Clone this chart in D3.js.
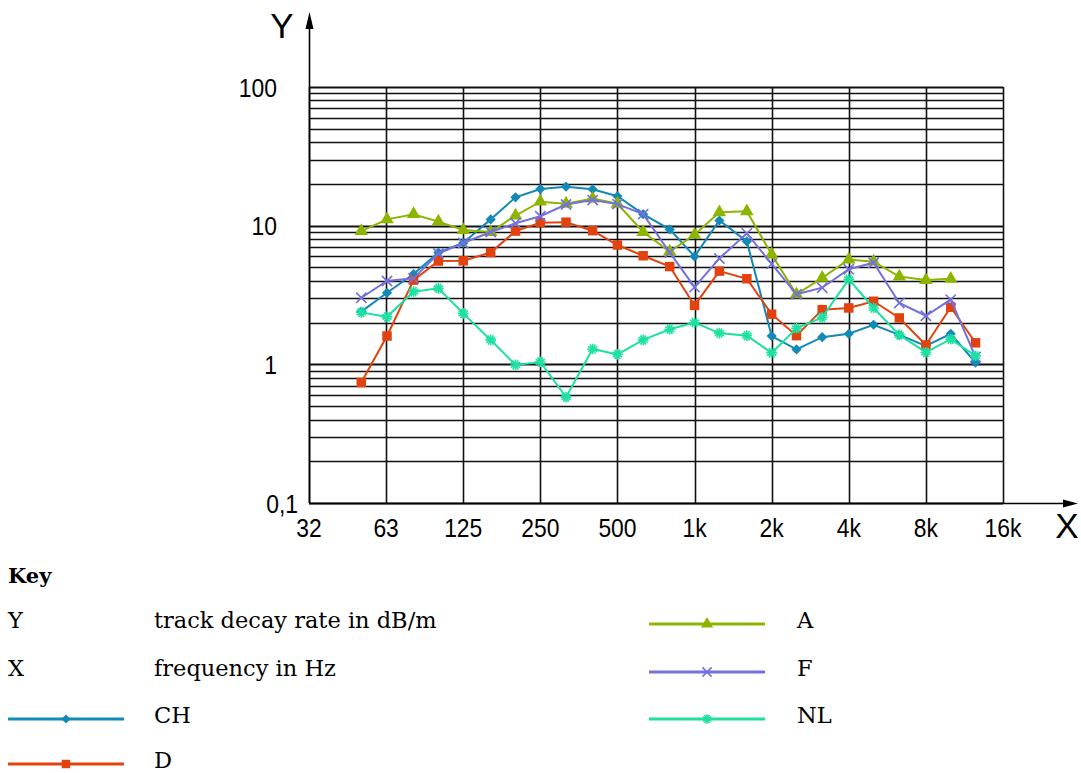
<!DOCTYPE html>
<html>
<head>
<meta charset="utf-8">
<script src="https://cdn.jsdelivr.net/npm/d3@7"></script>
<style>
  body { margin: 0; background: #fff; }
  svg { display: block; }
</style>
</head>
<body>
<svg id="chart" width="1081" height="773"></svg>
<script>
// third-octave band centres (Hz)
const bands = [50, 63, 80, 100, 125, 160, 200, 250, 315, 400, 500, 630, 800,
               1000, 1250, 1600, 2000, 2500, 3150, 4000, 5000, 6300, 8000, 10000, 12500]

// track decay rate in dB/m
const valuesCH = [2.4, 3.28, 4.48, 6.4, 7.5, 11.1, 16.0, 18.4, 19.1, 18.3, 16.3, 12.1, 9.4,
                  6.0, 10.9, 7.7, 1.6, 1.28, 1.57, 1.66, 1.93, 1.63, 1.36, 1.66, 1.03]
const valuesD  = [0.74, 1.6, 4.05, 5.56, 5.58, 6.4, 9.14, 10.5, 10.6, 9.2, 7.25, 6.07, 5.07,
                  2.66, 4.7, 4.14, 2.3, 1.61, 2.48, 2.55, 2.85, 2.16, 1.38, 2.58, 1.43]
const valuesA  = [9.14, 11.1, 12.1, 10.7, 9.3, 9.0, 11.8, 14.9, 14.4, 15.7, 14.4, 9.0, 6.5,
                  8.6, 12.5, 12.7, 6.2, 3.2, 4.2, 5.7, 5.5, 4.3, 4.05, 4.14, null]
const valuesF  = [3.02, 3.99, 4.17, 6.3, 7.5, 9.0, 10.4, 11.7, 14.2, 15.3, 14.3, 12.1, 6.4,
                  3.6, 5.8, 8.8, 5.3, 3.2, 3.57, 4.85, 5.4, 2.77, 2.24, 2.93, 1.13]
const valuesNL = [2.37, 2.2, 3.34, 3.53, 2.33, 1.5, 0.99, 1.04, 0.58, 1.29, 1.18, 1.5, 1.79,
                  2.0, 1.68, 1.61, 1.21, 1.82, 2.18, 4.1, 2.55, 1.63, 1.22, 1.52, 1.15]

// octave ticks
const octaves = [31.25, 62.5, 125, 250, 500, 1000, 2000, 4000, 8000, 16000]
const octaveLabels = ['32', '63', '125', '250', '500', '1k', '2k', '4k', '8k', '16k']
const decades = [0.1, 1, 10, 100]
const decadeLabels = ['0,1', '1', '10', '100']

const series = [
  { name: 'CH', values: valuesCH, color: '#1289b6', symbol: 'diamond' },
  { name: 'D',  values: valuesD,  color: '#e2420e', symbol: 'square' },
  { name: 'A',  values: valuesA,  color: '#8db500', symbol: 'triangle' },
  { name: 'F',  values: valuesF,  color: '#7470dc', symbol: 'times' },
  { name: 'NL', values: valuesNL, color: '#1de0a2', symbol: 'asterisk' }
]

const svg = d3.select('#chart')

const x = d3.scaleLog().base(2).domain([31.25, 16000]).range([309, 1003])
const y = d3.scaleLog().domain([0.1, 100]).range([503, 87])

// horizontal grid: 1..9 in each decade
let yGrid = []
for (let k = -1; k <= 1; k++) {
  for (let m = 1; m <= 9; m++) yGrid.push(m * Math.pow(10, k))
}
yGrid.push(100)

const grid = svg.append('g')
grid.selectAll('.hgrid')
  .data(yGrid)
  .enter()
  .append('line')
  .attr('x1', x(31.25))
  .attr('x2', x(16000))
  .attr('y1', d => Math.round(y(d)) + 0.5)
  .attr('y2', d => Math.round(y(d)) + 0.5)
  .attr('stroke', '#111')
  .attr('stroke-width', d => decades.includes(+d.toPrecision(3)) ? 2 : 1.5)

grid.selectAll('.vgrid')
  .data(octaves)
  .enter()
  .append('line')
  .attr('x1', d => Math.round(x(d)) + 0.5)
  .attr('x2', d => Math.round(x(d)) + 0.5)
  .attr('y1', y(100))
  .attr('y2', y(0.1))
  .attr('stroke', '#111')
  .attr('stroke-width', 1.6)

// axes with arrows
const axes = svg.append('g').attr('stroke', '#000').attr('fill', '#000')
axes.append('line')
  .attr('x1', x(31.25) + 0.5).attr('x2', x(31.25) + 0.5)
  .attr('y1', y(0.1)).attr('y2', 26)
  .attr('stroke-width', 1.6)
axes.append('path')
  .attr('d', 'M309.5,12 L305.5,29 L313.5,29 Z')
  .attr('stroke', 'none')
axes.append('line')
  .attr('x1', x(31.25)).attr('x2', 1066)
  .attr('y1', y(0.1) + 0.5).attr('y2', y(0.1) + 0.5)
  .attr('stroke-width', 1.6)
axes.append('path')
  .attr('d', 'M1078,503.5 L1063,499.5 L1063,507.5 Z')
  .attr('stroke', 'none')

const labelFont = '"Liberation Sans", Arial, sans-serif'

svg.selectAll('.xlab')
  .data(octaves)
  .enter()
  .append('text')
  .attr('transform', d => 'translate(' + x(d) + ',537) scale(0.88,1)')
  .attr('text-anchor', 'middle')
  .attr('font-family', labelFont)
  .attr('font-size', 26)
  .attr('fill', '#000')
  .text((d, i) => octaveLabels[i])

svg.selectAll('.ylab')
  .data(decades)
  .enter()
  .append('text')
  .attr('transform', d => 'translate(' + (d === 0.1 ? 298 : 277) + ',' + (y(d) + 9.5) + ') scale(0.88,1)')
  .attr('text-anchor', 'end')
  .attr('font-family', labelFont)
  .attr('font-size', 26)
  .attr('fill', '#000')
  .text((d, i) => decadeLabels[i])

svg.append('text')
  .attr('x', 282).attr('y', 38)
  .attr('text-anchor', 'middle')
  .attr('font-family', labelFont)
  .attr('font-size', 35)
  .text('Y')
svg.append('text')
  .attr('x', 1067).attr('y', 538)
  .attr('text-anchor', 'middle')
  .attr('font-family', labelFont)
  .attr('font-size', 35)
  .text('X')

// markers
function marker(sel, type, color, scale) {
  const k = scale || 1
  if (type === 'diamond') {
    sel.append('path').attr('d', d3.symbol(d3.symbolSquare, 52 * k)()).attr('transform', 'rotate(45)')
      .attr('fill', color)
  } else if (type === 'square') {
    sel.append('path').attr('d', d3.symbol(d3.symbolSquare, 90 * k)()).attr('fill', color)
  } else if (type === 'triangle') {
    sel.append('path').attr('d', d3.symbol(d3.symbolTriangle, 80 * k)()).attr('fill', color)
  } else if (type === 'times') {
    sel.append('path').attr('d', d3.symbol(d3.symbolTimes, 70 * k)())
      .attr('fill', 'none').attr('stroke', color).attr('stroke-width', 1.6)
  } else if (type === 'asterisk') {
    sel.append('path').attr('d', d3.symbol(d3.symbolAsterisk, 80 * k)())
      .attr('fill', 'none').attr('stroke', color).attr('stroke-width', 1.6)
    sel.append('path').attr('d', d3.symbol(d3.symbolAsterisk, 80 * k)()).attr('transform', 'rotate(90)')
      .attr('fill', 'none').attr('stroke', color).attr('stroke-width', 1.6)
  }
}

const line = d3.line()
  .defined(d => d[1] != null)
  .x(d => x(d[0]))
  .y(d => y(d[1]))

series.forEach(s => {
  const pts = bands.map((f, i) => [f, s.values[i]])
  const g = svg.append('g')
  g.append('path')
    .attr('d', line(pts))
    .attr('fill', 'none')
    .attr('stroke', s.color)
    .attr('stroke-width', 2)
  g.selectAll('.pt')
    .data(pts.filter(p => p[1] != null))
    .enter()
    .append('g')
    .attr('transform', p => 'translate(' + x(p[0]) + ',' + y(p[1]) + ')')
    .each(function () { marker(d3.select(this), s.symbol, s.color) })
})

// key
const keyFont = '"DejaVu Serif", serif'
svg.append('text')
  .attr('x', 8).attr('y', 583)
  .attr('font-family', keyFont)
  .attr('font-weight', 'bold')
  .attr('font-size', 21)
  .text('Key')

const keyText = [
  { sym: 'Y', text: 'track decay rate in dB/m', y: 628 },
  { sym: 'X', text: 'frequency in Hz', y: 676 }
]
keyText.forEach(k => {
  svg.append('text').attr('x', 8).attr('y', k.y)
    .attr('font-family', keyFont).attr('font-size', 22.5).text(k.sym)
  svg.append('text').attr('x', 154).attr('y', k.y)
    .attr('font-family', keyFont).attr('font-size', 22.5).text(k.text)
})

const keyRows = [
  { s: series[0], x0: 8, tx: 154, y: 723 },
  { s: series[1], x0: 8, tx: 154, y: 768 },
  { s: series[2], x0: 649, tx: 797, y: 628 },
  { s: series[3], x0: 649, tx: 797, y: 676 },
  { s: series[4], x0: 649, tx: 797, y: 723 }
]
keyRows.forEach(k => {
  const ly = k.y - 4
  svg.append('line')
    .attr('x1', k.x0).attr('x2', k.x0 + 116)
    .attr('y1', ly).attr('y2', ly)
    .attr('stroke', k.s.color).attr('stroke-width', 3)
  const m = svg.append('g').attr('transform', 'translate(' + (k.x0 + 58) + ',' + ly + ')')
  marker(m, k.s.symbol, k.s.color, 0.8)
  svg.append('text').attr('x', k.tx).attr('y', k.y)
    .attr('font-family', keyFont).attr('font-size', 22.5).text(k.s.name)
})
</script>
</body>
</html>
